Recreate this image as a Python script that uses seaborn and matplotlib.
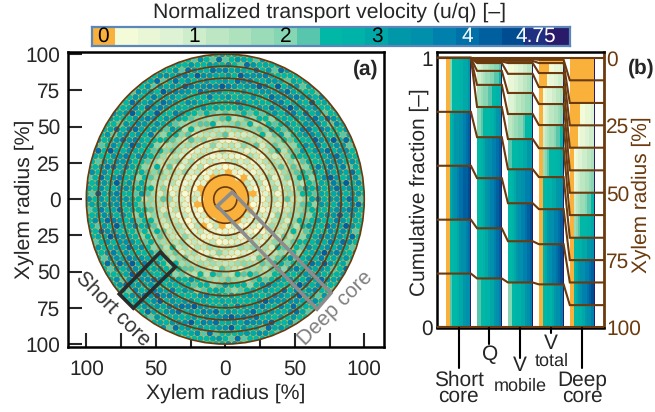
import numpy as np
import pandas as pd
import matplotlib
matplotlib.use("Agg")
import matplotlib.pyplot as plt
from matplotlib.colors import ListedColormap
from matplotlib.patches import Circle, Polygon
import seaborn as sns

# colour classes of the velocity scale, 0 to 5 in steps of 0.25
class_colors = ["#F9B13C", "#F4FBD9", "#E9F7D6", "#DDF3D3", "#CEEDCB", "#BDE7C3", "#AEE2BD",
                "#9ADCB8", "#86D6B4", "#58C6AC", "#00B8A5", "#00B3A8", "#00A8A8", "#0097A8",
                "#0090AC", "#0080AC", "#0070A8", "#005F9E", "#004C90", "#1F3080", "#2A1A6A"]
colorbar_labels = {0: "0", 4: "1", 8: "2", 12: "3", 16: "4", 19: "4.75"}

# class values seen in each annulus of panel (a), centre to bark, repeated round the annulus
ring_dots = [[0], [0],
             [2, 0, 3, 1, 2, 4, 3, 2, 0, 1, 4, 3, 5],
             [3, 4, 2, 5, 3, 1, 4, 2, 6, 3, 5, 4, 2],
             [4, 5, 3, 6, 4, 2, 5, 3, 7, 4, 6, 3, 8, 5],
             [6, 5, 7, 4, 6, 8, 5, 7, 4, 6, 9, 5, 7],
             [8, 7, 9, 6, 8, 10, 7, 9, 6, 8, 11, 7, 9],
             [10, 9, 11, 10, 8, 12, 9, 10, 11, 13, 9, 10, 8],
             [11, 13, 10, 12, 14, 11, 10, 13, 12, 15, 11, 10, 12],
             [13, 14, 12, 16, 13, 11, 15, 13, 17, 12, 14, 11, 15, 13],
             [12, 13, 15, 11, 14, 12, 16, 13, 11, 14, 12, 17, 13, 10],
             [10, 12, 9, 11, 13, 10, 12, 10, 14, 11, 9, 13, 10, 16]]

radius_ticks = [-100, -75, -50, -25, 0, 25, 50, 75, 100]
ring_radii = [8.33, 16.67, 25, 33.33, 41.67, 50, 58.33, 66.67, 75, 83.33, 91.67, 100]

short_corners = [(-46.8, -36.6), (-36, -46.9), (-66.2, -75.2), (-76.3, -65.5)]
deep_corners = [(5, 4.8), (-5.8, -4.8), (66, -75.9), (76, -64.8)]

short_edges = [0, 0, 0, 0, 0, 0, 0, 0, 20, 40, 60, 80, 100]
q_edges = [0, 0.4, 0.9, 1.3, 1.9, 4.8, 10, 18.2, 29.4, 44.6, 63.2, 81.8, 100]
vmobile_edges = [0, 0.4, 1.1, 1.9, 5.9, 13, 20.8, 30.1, 41.3, 53.9, 68, 83.3, 100]
vtotal_edges = [0, 0.7, 1.9, 5.6, 10.8, 17.1, 24.9, 33.5, 44.2, 56.1, 69.1, 84, 100]
deep_edges = [0, 8.3, 16.7, 25, 33.3, 41.7, 50, 58.3, 66.7, 75, 83.3, 91.7, 100]

# classes across each bar, one row per annulus
deep_classes = [[0] * 10, [0] * 10,
                [0, 0, 0, 0, 1, 1, 2, 2, 2, 3],
                [0, 0, 0, 1, 2, 2, 3, 3, 4, 4],
                [0, 1, 2, 3, 3, 4, 4, 5, 5, 6],
                [0, 2, 3, 4, 5, 5, 6, 6, 7, 8],
                [0, 4, 5, 6, 7, 7, 8, 9, 9, 10],
                [0, 7, 8, 9, 10, 10, 10, 11, 11, 12],
                [0, 10, 10, 11, 11, 12, 12, 13, 13, 14],
                [0, 11, 12, 13, 14, 14, 15, 15, 16, 17],
                [0, 11, 12, 13, 14, 15, 15, 16, 17, 18],
                [0, 10, 10, 11, 11, 12, 13, 14, 14, 15]]
short_classes = deep_classes[:7] + [[0, 8, 10, 10, 10, 11, 11, 12, 12, 13],
                                    [0, 10, 12, 13, 13, 14, 14, 15, 16, 17],
                                    [0, 12, 13, 14, 15, 16, 16, 17, 17, 18],
                                    [0, 10, 10, 11, 12, 13, 14, 14, 15, 16],
                                    [0, 9, 10, 10, 11, 12, 12, 13, 14, 14]]
q_classes = [[1, 2, 3, 3, 4, 4, 5, 5, 6, 6], [1, 2, 3, 3, 4, 4, 5, 5, 6, 6],
             [1, 2, 3, 3, 4, 4, 5, 5, 6, 6], [2, 3, 4, 5, 5, 6, 6, 7, 8, 9],
             [3, 4, 5, 5, 6, 7, 7, 8, 8, 9],
             [4, 5, 6, 7, 7, 8, 8, 9, 9, 10],
             [6, 7, 8, 8, 9, 9, 10, 10, 11, 11],
             [8, 9, 10, 10, 10, 11, 11, 12, 13, 14],
             [10, 11, 12, 13, 14, 14, 15, 15, 16, 17],
             [10, 11, 12, 13, 14, 15, 15, 16, 17, 18],
             [10, 10, 11, 12, 13, 14, 14, 15, 16, 17],
             [9, 10, 10, 11, 11, 12, 12, 13, 14, 15]]
vmobile_classes = [[1, 1, 2, 2, 3, 3, 4, 4, 5, 5], [1, 1, 2, 2, 3, 3, 4, 4, 5, 5],
                   [1, 1, 2, 2, 3, 3, 4, 4, 5, 5], [1, 1, 2, 2, 3, 3, 4, 4, 5, 5],
                   [2, 2, 3, 3, 4, 4, 5, 5, 6, 7],
                   [3, 3, 4, 5, 5, 6, 6, 7, 7, 8],
                   [5, 6, 7, 7, 8, 8, 9, 10, 10, 11],
                   [9, 10, 10, 10, 11, 11, 12, 12, 13, 13],
                   [10, 11, 12, 13, 13, 14, 14, 15, 15, 16],
                   [10, 11, 12, 13, 14, 15, 15, 16, 17, 18],
                   [10, 11, 12, 13, 14, 14, 15, 15, 16, 17],
                   [8, 10, 10, 11, 11, 12, 12, 13, 14, 15]]
bar_edges = [short_edges, q_edges, vmobile_edges, vtotal_edges, deep_edges]
bar_classes = [short_classes, q_classes, vmobile_classes, deep_classes, deep_classes]

brown = "#6B3A0E"
fig_w, fig_h = 655, 412

sns.set_style("white")
plt.rcParams["font.family"] = ["Liberation Sans", "DejaVu Sans"]
plt.rcParams["font.size"] = 15
plt.rcParams["text.hinting"] = "no_hinting"

fig = plt.figure(figsize=(fig_w / 100, fig_h / 100), dpi=100)


def axes_px(left, top, right, bottom):
    return fig.add_axes([left / fig_w, 1 - bottom / fig_h, (right - left) / fig_w, (bottom - top) / fig_h])


# colour scale on top
cax = axes_px(92, 27, 570, 46)
cmap = ListedColormap(class_colors)
sns.heatmap(np.arange(len(class_colors)).reshape(1, -1), cmap=cmap, cbar=False, ax=cax,
            xticklabels=False, yticklabels=False)
for pos, label in colorbar_labels.items():
    cax.text(pos + 0.5, 0.5, label, ha="center", va="center", fontsize=15,
             color="white" if pos >= 16 else "black")
for spine in cax.spines.values():
    spine.set_visible(True)
    spine.set_color("#5B86B8")
    spine.set_linewidth(1.6)
fig.text(330 / fig_w, 1 - 12 / fig_h, "Normalized transport velocity (u/q) [\u2013]", ha="center", va="center", fontsize=15.3)

# panel (a)
ax = axes_px(68, 52, 384, 347)
ax.set_xlim(-113.2, 114.2)
ax.set_ylim(-102, 101.4)
disc = Circle((0, 0), 100, facecolor=class_colors[0], edgecolor="none", zorder=1)
ax.add_patch(disc)

gx, gy = np.meshgrid(np.arange(-24, 25), np.arange(-29, 30))
xs = (gx + 0.5 * (gy % 2)).ravel() * 4.46
ys = gy.ravel() * 3.7
keep = np.hypot(xs, ys) < 101.5
dots = pd.DataFrame({"x": xs[keep], "y": ys[keep]})
dots["r"] = np.hypot(dots["x"], dots["y"])
dots["angle"] = np.arctan2(dots["y"], dots["x"])
dots["ring"] = (dots["r"] / 8.3334).astype(int).clip(upper=11)
dots = dots.sort_values(["ring", "angle"])
dots["turn"] = dots.groupby("ring").cumcount()
dots["cls"] = [ring_dots[rg][t % len(ring_dots[rg])] for rg, t in zip(dots["ring"], dots["turn"])]
sns.scatterplot(data=dots, x="x", y="y", hue="cls", palette=dict(enumerate(class_colors)), s=19,
                linewidth=0, legend=False, ax=ax, zorder=2)
ax.collections[-1].set_clip_path(disc)

for rad in ring_radii:
    ax.add_patch(Circle((0, 0), rad, fill=False, edgecolor=brown, linewidth=1.2, zorder=3))
ax.add_patch(Polygon(short_corners, closed=True, fill=False, edgecolor="#2B2B2B", linewidth=2.6, zorder=4))
ax.add_patch(Polygon(deep_corners, closed=True, fill=False, edgecolor="#8C8C8C", linewidth=2.6, zorder=4))

ax.set_xticks(radius_ticks)
ax.set_xticklabels(["100", "", "50", "", "0", "", "50", "", "100"])
ax.set_yticks(radius_ticks)
ax.set_yticklabels(["100", "75", "50", "25", "0", "25", "50", "75", "100"])
ax.tick_params(axis="x", direction="in", length=10, width=1.5, labelsize=15, pad=9, bottom=True)
ax.tick_params(axis="y", direction="in", length=10, width=1.5, labelsize=15, pad=5.5, left=True)
ax.set_xlabel("Xylem radius [%]", fontsize=15.3, labelpad=3)
ax.set_ylabel("Xylem radius [%]", fontsize=15.3, labelpad=-6)
for spine in ax.spines.values():
    spine.set_visible(True)
    spine.set_color("black")
    spine.set_linewidth(1.8)
ax.text(0.981, 0.942, "(a)", transform=ax.transAxes, ha="right", va="center", fontsize=15, fontweight="bold")
ax.text(-81, -76, "Short core", rotation=-45, ha="center", va="center", color="#333333", fontsize=15, rotation_mode="anchor")
ax.text(79, -75, "Deep core", rotation=45, ha="center", va="center", color="#808080", fontsize=15, rotation_mode="anchor")

# panel (b)
bx = axes_px(437, 52, 603.5, 327.5)
bx.set_xlim(-0.696, 4.69)
bx.set_ylim(100, -2.2)
half = 0.4
for i, (edges, rows) in enumerate(zip(bar_edges, bar_classes)):
    col_x = np.linspace(i - half + 0.05, i + half - 0.03, 11)
    col_x = np.concatenate([[i - half], col_x, [i + half]])
    for top, low, row in zip(edges[:-1], edges[1:], rows):
        if low <= top:
            continue
        sliver_left = 0 if i in (0, 3, 4) else row[0]
        vals = np.array([[sliver_left] + list(row) + [20]])
        bx.pcolormesh(col_x, [top, low], vals, cmap=cmap, vmin=-0.5, vmax=20.5, zorder=1)

for k in range(13):
    line_x, line_y = [-0.696], [short_edges[k]]
    for i, edges in enumerate(bar_edges):
        line_x += [i - half, i + half]
        line_y += [edges[k], edges[k]]
    line_x.append(4.69)
    line_y.append(deep_edges[k])
    bx.plot(line_x, line_y, color=brown, linewidth=1.5, zorder=3, solid_joinstyle="miter")

bx.set_xticks([])
bx.set_yticks([0, 100])
bx.set_yticklabels(["1", "0"])
bx.tick_params(axis="y", direction="in", length=8, width=1.5, labelsize=15, pad=3, left=True)
bx.set_ylabel("")
for side in ["left", "top", "bottom"]:
    bx.spines[side].set_visible(True)
    bx.spines[side].set_color("black")
    bx.spines[side].set_linewidth(1.8)
bx.spines["right"].set_visible(True)
bx.spines["right"].set_color(brown)
bx.spines["right"].set_linewidth(2)

rx = bx.twinx()
rx.set_ylim(100, -2.2)
rx.set_yticks([0, 25, 50, 75, 100])
rx.set_yticklabels(["0", "25", "50", "75", "100"], color=brown)
rx.tick_params(axis="y", length=0, labelsize=15, pad=2)
rx.grid(False)
for spine in rx.spines.values():
    spine.set_visible(False)

fig.text(419 / fig_w, 1 - 192 / fig_h, "Cumulative fraction [\u2013]", rotation=90, ha="center", va="center", fontsize=15)
fig.text(641 / fig_w, 1 - 195 / fig_h, "Xylem radius [%]", rotation=90, ha="center", va="center", fontsize=15, color=brown)
fig.text(641 / fig_w, 1 - 68 / fig_h, "(b)", ha="center", va="center", fontsize=15, fontweight="bold")

# stems and names under the bars
stem_ends = [368, 344, 358, 333, 368]
names = [[("Short\ncore", 388, 15)],
         [("Q", 355, 15)],
         [("V", 366, 15), ("mobile", 386, 13)],
         [("V", 344, 15), ("total", 361, 13)],
         [("Deep\ncore", 388, 15)]]
for i, (end, name) in enumerate(zip(stem_ends, names)):
    px = bx.transData.transform((i, 100))[0]
    fig.add_artist(plt.Line2D([px / fig_w, px / fig_w], [1 - 327.5 / fig_h, 1 - end / fig_h], color="black", linewidth=1.5))
    for word, y, size in name:
        fig.text(px / fig_w, 1 - y / fig_h, word, ha="center", va="center", fontsize=size, linespacing=0.75)

fig.savefig("out.png", dpi=100)
